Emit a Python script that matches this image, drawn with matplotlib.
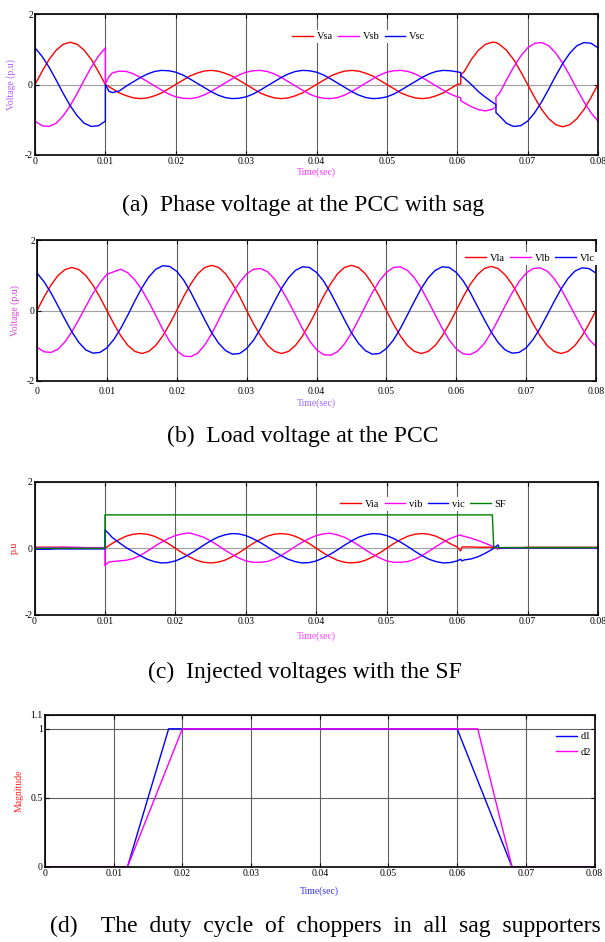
import numpy as np
import matplotlib
matplotlib.use('Agg')
import matplotlib.pyplot as plt

plt.rcParams['font.family'] = ['Liberation Serif', 'DejaVu Serif']
plt.rcParams['axes.unicode_minus'] = False

# sampling grid (1 ms) plus duplicated instants where the traces jump
t_full = np.arange(81) * 0.001
ta = np.concatenate([t_full[:11], [0.010, 0.0105], t_full[11:61], [0.0605, 0.0605],
                     t_full[61:66], [0.0655, 0.0655], t_full[66:]])
tc = np.concatenate([t_full[:11], [0.010, 0.0105], t_full[11:61], [0.0605, 0.0607],
                     t_full[61:66], [0.0655, 0.0658], t_full[66:]])

# (a) source voltage with sag
vsa = [0, 0.37, 0.71, 0.97, 1.14, 1.2, 1.14, 0.97, 0.71, 0.37, 0.0,
       0.0, -0.06,
       -0.12, -0.24, -0.32, -0.38, -0.40, -0.38, -0.32, -0.24, -0.12, 0.0,
       0.12, 0.24, 0.32, 0.38, 0.40, 0.38, 0.32, 0.24, 0.12, 0.0,
       -0.12, -0.24, -0.32, -0.38, -0.40, -0.38, -0.32, -0.24, -0.12, 0.0,
       0.12, 0.24, 0.32, 0.38, 0.40, 0.38, 0.32, 0.24, 0.12, 0.0,
       -0.12, -0.24, -0.32, -0.38, -0.40, -0.38, -0.32, -0.24, -0.12, 0.0,
       0.02, 0.27,
       0.37, 0.71, 0.97, 1.14, 1.2,
       1.19, 1.19,
       1.14, 0.97, 0.71, 0.37, 0.0, -0.37, -0.71, -0.97, -1.14, -1.2, -1.14, -0.97, -0.71, -0.37, 0.0]
vsb = [-1.04, -1.17, -1.19, -1.10, -0.89, -0.60, -0.25, 0.13, 0.49, 0.80, 1.04,
       0.02, 0.22,
       0.33, 0.38, 0.37, 0.30, 0.20, 0.08, -0.04, -0.16, -0.27, -0.35,
       -0.39, -0.40, -0.37, -0.30, -0.20, -0.08, 0.04, 0.16, 0.27, 0.35,
       0.39, 0.40, 0.37, 0.30, 0.20, 0.08, -0.04, -0.16, -0.27, -0.35,
       -0.39, -0.40, -0.37, -0.30, -0.20, -0.08, 0.04, 0.16, 0.27, 0.35,
       0.39, 0.40, 0.37, 0.30, 0.20, 0.08, -0.04, -0.16, -0.27, -0.35,
       -0.38, -0.46,
       -0.52, -0.63, -0.71, -0.75, -0.70,
       -0.63, -0.36,
       -0.25, 0.13, 0.49, 0.80, 1.04, 1.17, 1.19, 1.10, 0.89, 0.60, 0.25, -0.13, -0.49, -0.80, -1.04]
vsc = [1.04, 0.80, 0.49, 0.13, -0.25, -0.60, -0.89, -1.10, -1.19, -1.17, -1.04,
       0.0, -0.19,
       -0.23, -0.18, -0.04, 0.08, 0.20, 0.30, 0.37, 0.40, 0.39, 0.35,
       0.27, 0.16, 0.04, -0.08, -0.20, -0.30, -0.37, -0.40, -0.39, -0.35,
       -0.27, -0.16, -0.04, 0.08, 0.20, 0.30, 0.37, 0.40, 0.39, 0.35,
       0.27, 0.16, 0.04, -0.08, -0.20, -0.30, -0.37, -0.40, -0.39, -0.35,
       -0.27, -0.16, -0.04, 0.08, 0.20, 0.30, 0.37, 0.40, 0.39, 0.36,
       0.34, 0.25,
       0.18, 0.0, -0.20, -0.36, -0.50,
       -0.57, -0.80,
       -0.89, -1.10, -1.19, -1.17, -1.04, -0.80, -0.49, -0.13, 0.25, 0.60, 0.89, 1.10, 1.19, 1.17, 1.04]

# (b) load voltage
vla = [0, 0.38, 0.72, 0.99, 1.16, 1.22, 1.16, 0.99, 0.72, 0.38,
       0, -0.38, -0.72, -0.99, -1.16, -1.22, -1.16, -0.99, -0.72, -0.38,
       0, 0.40, 0.75, 1.04, 1.22, 1.28, 1.22, 1.04, 0.75, 0.40,
       0, -0.38, -0.72, -0.99, -1.16, -1.22, -1.16, -0.99, -0.72, -0.38,
       0, 0.40, 0.75, 1.04, 1.22, 1.28, 1.22, 1.04, 0.75, 0.40,
       0, -0.38, -0.72, -0.99, -1.16, -1.22, -1.16, -0.99, -0.72, -0.38,
       0, 0.39, 0.74, 1.01, 1.19, 1.25, 1.19, 1.01, 0.74, 0.39,
       0, -0.38, -0.72, -0.99, -1.16, -1.22, -1.16, -0.99, -0.72, -0.38,
       0]
vlb = [-1.04, -1.17, -1.19, -1.10, -0.89, -0.60, -0.25, 0.12, 0.48, 0.78,
       1.03, 1.10, 1.17, 1.07, 0.87, 0.59, 0.24, -0.14, -0.54, -0.88,
       -1.14, -1.29, -1.31, -1.21, -0.98, -0.66, -0.27, 0.13, 0.49, 0.80,
       1.04, 1.17, 1.19, 1.10, 0.89, 0.60, 0.25, -0.13, -0.52, -0.86,
       -1.11, -1.25, -1.27, -1.17, -0.95, -0.64, -0.27, 0.13, 0.51, 0.84,
       1.08, 1.22, 1.24, 1.14, 0.93, 0.63, 0.26, -0.13, -0.51, -0.84,
       -1.09, -1.23, -1.25, -1.15, -0.94, -0.63, -0.26, 0.13, 0.50, 0.82,
       1.06, 1.19, 1.21, 1.12, 0.91, 0.61, 0.25, -0.13, -0.50, -0.82,
       -1.02]
vlc = [1.06, 0.82, 0.50, 0.13, -0.25, -0.61, -0.91, -1.12, -1.21, -1.19,
       -1.06, -0.82, -0.50, -0.13, 0.27, 0.64, 0.95, 1.17, 1.27, 1.25,
       1.11, 0.86, 0.52, 0.13, -0.26, -0.63, -0.93, -1.14, -1.24, -1.22,
       -1.08, -0.84, -0.51, -0.13, 0.26, 0.63, 0.93, 1.14, 1.24, 1.22,
       1.08, 0.84, 0.51, 0.13, -0.26, -0.63, -0.93, -1.14, -1.24, -1.22,
       -1.08, -0.84, -0.51, -0.13, 0.26, 0.63, 0.93, 1.14, 1.24, 1.22,
       1.08, 0.84, 0.51, 0.13, -0.25, -0.61, -0.91, -1.12, -1.21, -1.19,
       -1.06, -0.82, -0.50, -0.13, 0.25, 0.61, 0.91, 1.12, 1.21, 1.19,
       1.06]

# (c) injected voltages and sag flag
via = [0.03, 0.03, 0.03, 0.03, 0.03, 0.02, 0.0, 0.0, 0.0, 0.01, 0.01,
       0.0, 0.07,
       0.14, 0.26, 0.36, 0.42, 0.44, 0.42, 0.36, 0.26, 0.14, 0.0,
       -0.14, -0.26, -0.36, -0.42, -0.44, -0.42, -0.36, -0.26, -0.14, 0.0,
       0.14, 0.26, 0.36, 0.42, 0.44, 0.42, 0.36, 0.26, 0.14, 0.0,
       -0.14, -0.26, -0.36, -0.42, -0.44, -0.42, -0.36, -0.26, -0.14, 0.0,
       0.14, 0.26, 0.36, 0.42, 0.44, 0.42, 0.36, 0.26, 0.14, 0.04,
       -0.08, 0.04,
       0.04, 0.04, 0.03, 0.03, 0.03,
       0.0, -0.02,
       0.01, 0.02, 0.02, 0.02, 0.03, 0.03, 0.03, 0.03, 0.03, 0.03, 0.03, 0.03, 0.03, 0.03, 0.03]
vib = [0.02, 0.02, 0.02, 0.02, 0.03, 0.03, 0.03, 0.02, 0.02, 0.02, 0.02,
       -0.52, -0.42,
       -0.40, -0.38, -0.36, -0.31, -0.22, -0.09, 0.05, 0.18, 0.29, 0.38,
       0.43, 0.46, 0.40, 0.33, 0.22, 0.09, -0.05, -0.18, -0.29, -0.38,
       -0.42, -0.42, -0.40, -0.33, -0.22, -0.09, 0.05, 0.18, 0.29, 0.38,
       0.43, 0.45, 0.40, 0.33, 0.22, 0.09, -0.05, -0.18, -0.29, -0.38,
       -0.42, -0.42, -0.40, -0.33, -0.22, -0.09, 0.05, 0.18, 0.29, 0.37,
       0.40, 0.37,
       0.36, 0.30, 0.23, 0.15, 0.06,
       0.01, -0.02,
       0.01, 0.01, 0.01, 0.01, 0.01, 0.01, 0.01, 0.01, 0.01, 0.01, 0.01, 0.01, 0.01, 0.01, 0.01]
vic = [-0.03, -0.03, -0.03, -0.02, -0.02, -0.02, -0.02, -0.02, -0.02, -0.02, -0.02,
       0.55, 0.45,
       0.33, 0.17, 0.02, -0.10, -0.22, -0.33, -0.40, -0.44, -0.43, -0.38,
       -0.29, -0.18, -0.05, 0.09, 0.22, 0.33, 0.40, 0.44, 0.43, 0.38,
       0.29, 0.18, 0.05, -0.09, -0.22, -0.33, -0.40, -0.44, -0.43, -0.38,
       -0.29, -0.18, -0.05, 0.09, 0.22, 0.33, 0.40, 0.44, 0.43, 0.38,
       0.29, 0.18, 0.05, -0.09, -0.22, -0.33, -0.40, -0.44, -0.43, -0.38,
       -0.33, -0.38,
       -0.35, -0.32, -0.25, -0.15, -0.03,
       0.05, 0.10,
       0.0, 0.01, 0.01, 0.01, 0.01, 0.01, 0.01, 0.01, 0.01, 0.01, 0.01, 0.01, 0.01, 0.01, 0.01]
t_sf = [0, 0.010, 0.010, 0.065, 0.0652, 0.080]
sf = [0, 0, 1.0, 1.0, 0.02, 0.02]

# (d) chopper duty cycles
t_d1 = [0, 0.012, 0.018, 0.060, 0.068, 0.080]
d1 = [0, 0, 1, 1, 0, 0]
t_d2 = [0, 0.012, 0.020, 0.063, 0.068, 0.080]
d2 = [0, 0, 1, 1, 0, 0]

xticks = [0, 0.01, 0.02, 0.03, 0.04, 0.05, 0.06, 0.07, 0.08]
xticklabels = ['0', '0.01', '0.02', '0.03', '0.04', '0.05', '0.06', '0.07', '0.08']

RED, MAG, BLUE, GREEN = '#ff0000', '#ff00ff', '#0000ff', '#008000'

fig = plt.figure(figsize=(6.05, 9.42), dpi=100)
W, H = 605.0, 942.0


def make_ax(l, r, top, bot):
    return fig.add_axes([l / W, 1 - bot / H, (r - l) / W, (bot - top) / H])


def style(ax, ylim, yt, ytl, ylab, ycol, xcol, ylx, xly):
    ax.set_xlim(0, 0.08)
    ax.set_ylim(*ylim)
    ax.set_xticks(xticks)
    ax.set_xticklabels(xticklabels, fontsize=7)
    ax.set_yticks(yt)
    ax.set_yticklabels(ytl, fontsize=7)
    ax.tick_params(direction='in', length=3, width=0.8, top=True, right=True, pad=1.5)
    ax.grid(True, axis='x', color='#606060', lw=0.8)
    ax.grid(True, axis='y', color='#a0a0a0', lw=0.8)
    ax.set_axisbelow(True)
    for s in ax.spines.values():
        s.set_linewidth(1.2)
    ax.set_ylabel(ylab, color=ycol, fontsize=7)
    ax.yaxis.set_label_coords(ylx, 0.5)
    ax.set_xlabel('Time(sec)', color=xcol, fontsize=7)
    ax.xaxis.set_label_coords(0.5, xly)


def leg(ax, ncol, cx, cy):
    lg = ax.legend(loc='center', bbox_to_anchor=(cx, cy), ncol=ncol, fontsize=7.5,
                   frameon=True, facecolor='white', edgecolor='none', framealpha=1,
                   fancybox=False, handlelength=2.0, handletextpad=0.35,
                   columnspacing=0.5, borderpad=0.2, labelspacing=0.6)
    return lg


# (a)
ax = make_ax(35, 598, 14, 155)
ax.plot(ta, vsa, color=RED, lw=1.0, label='Vsa')
ax.plot(ta, vsb, color=MAG, lw=1.0, label='Vsb')
ax.plot(ta, vsc, color=BLUE, lw=1.0, label='Vsc')
style(ax, (-2, 2), [-2, 0, 2], ['-2', '0', '2'], 'Voltage (p.u)', '#b45aff', '#ff33ff', -0.034, -0.085)
leg(ax, 3, 0.575, 0.84)

# (b)
ax = make_ax(37, 596, 240, 381)
ax.plot(t_full, vla, color=RED, lw=1.0, label='Vla')
ax.plot(t_full, vlb, color=MAG, lw=1.0, label='Vlb')
ax.plot(t_full, vlc, color=BLUE, lw=1.0, label='Vlc')
style(ax, (-2, 2), [-2, 0, 2], ['-2', '0', '2'], 'Voltage (p.u)', '#e040e0', '#9966ff', -0.030, -0.12)
ax.tick_params(axis='x', pad=4)
leg(ax, 3, 0.882, 0.87)

# (c)
ax = make_ax(34.5, 598, 481.5, 615)
ax.plot(tc, via, color=RED, lw=1.0, label='Via')
ax.plot(tc, vib, color=MAG, lw=1.0, label='vib')
ax.plot(tc, vic, color=BLUE, lw=1.0, label='vic')
ax.plot(t_sf, sf, color=GREEN, lw=1.0, label='SF')
style(ax, (-2, 2), [-2, 0, 2], ['-2', '0', '2'], 'p.u', '#ff2020', '#ff40ff', -0.027, -0.12)
leg(ax, 4, 0.69, 0.83)

# (d)
ax = make_ax(45, 594.5, 715, 867)
ax.plot(t_d1, d1, color=BLUE, lw=1.0, label='d1')
ax.plot(t_d2, d2, color=MAG, lw=1.0, label='d2')
style(ax, (0, 1.1), [0, 0.5, 1, 1.1], ['0', '0.5', '1', '1.1'], 'Magnitude', '#ff2020', '#3333ff', -0.038, -0.13)
ax.grid(True, axis='y', color='#606060', lw=0.8)
leg(ax, 1, 0.962, 0.806)

# captions
fig.text(303 / W, 1 - 205 / H, '(a)  Phase voltage at the PCC with sag', ha='center', va='center', fontsize=17)
fig.text(303 / W, 1 - 436 / H, '(b)  Load voltage at the PCC', ha='center', va='center', fontsize=17)
fig.text(305 / W, 1 - 672 / H, '(c)  Injected voltages with the SF', ha='center', va='center', fontsize=17)
fig.text(50 / W, 1 - 926 / H, '(d)    The  duty  cycle  of  choppers  in  all  sag  supporters',
         ha='left', va='center', fontsize=17)

fig.savefig('out.png', dpi=100)
